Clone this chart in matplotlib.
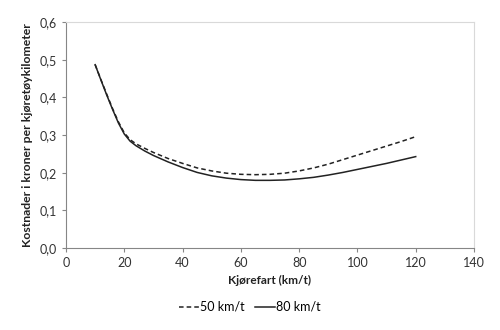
import matplotlib
matplotlib.use('Agg')
import matplotlib.pyplot as plt
from matplotlib.ticker import FuncFormatter

plt.rcParams['font.family'] = ['Lato', 'DejaVu Sans']

# Kjørefart (km/t)
fart = [10, 12, 14, 16, 18, 20, 22, 24, 27, 30, 35, 40, 45, 50, 55, 60, 65, 70, 75, 80, 85, 90,
        95, 100, 105, 110, 115, 120]

# Kostnader i kroner per kjøretøykilometer
kost_50 = [0.487, 0.447, 0.408, 0.370, 0.335, 0.306, 0.288, 0.277, 0.265, 0.254, 0.238, 0.225, 0.213,
           0.205, 0.199, 0.196, 0.195, 0.196, 0.199, 0.205, 0.213, 0.223, 0.235, 0.247, 0.259, 0.271,
           0.283, 0.296]
kost_80 = [0.487, 0.446, 0.406, 0.368, 0.332, 0.303, 0.284, 0.272, 0.258, 0.246, 0.229, 0.214, 0.201,
           0.192, 0.186, 0.182, 0.180, 0.180, 0.181, 0.184, 0.188, 0.194, 0.201, 0.209, 0.217, 0.225,
           0.234, 0.243]

fig = plt.figure(figsize=(5, 3.3), dpi=100)
ax = fig.add_axes([0.132, 0.248, 0.816, 0.685])

ax.plot(fart, kost_50, color='#222222', linestyle=(0, (3, 2)), linewidth=1.1, label='50 km/t')
ax.plot(fart, kost_80, color='#222222', linestyle='-', linewidth=1.1, label='80 km/t')

ax.set_xlim(0, 140)
ax.set_ylim(0, 0.6)
ax.set_xticks(range(0, 141, 20))
ax.set_yticks([0, 0.1, 0.2, 0.3, 0.4, 0.5, 0.6])
ax.yaxis.set_major_formatter(FuncFormatter(lambda v, p: f'{v:.1f}'.replace('.', ',')))

for s in ['top', 'right']:
    ax.spines[s].set_color('#d9d9d9')
for s in ['left', 'bottom']:
    ax.spines[s].set_color('#868686')
ax.tick_params(axis='both', colors='#868686', labelcolor='#333333', labelsize=9, length=3, width=0.8)

ax.set_xlabel('Kjørefart (km/t)', fontsize=8.5, fontweight='bold', color='#222222', labelpad=4)
ax.set_ylabel('Kostnader i kroner per kjøretøykilometer', fontsize=8.8, fontweight='bold', color='#222222', labelpad=5)

fig.legend(loc='center', bbox_to_anchor=(0.5, 0.07), ncol=2, frameon=False, fontsize=9,
           handlelength=1.6, handletextpad=0.1, columnspacing=0.8)

fig.savefig('out.png', dpi=100)
